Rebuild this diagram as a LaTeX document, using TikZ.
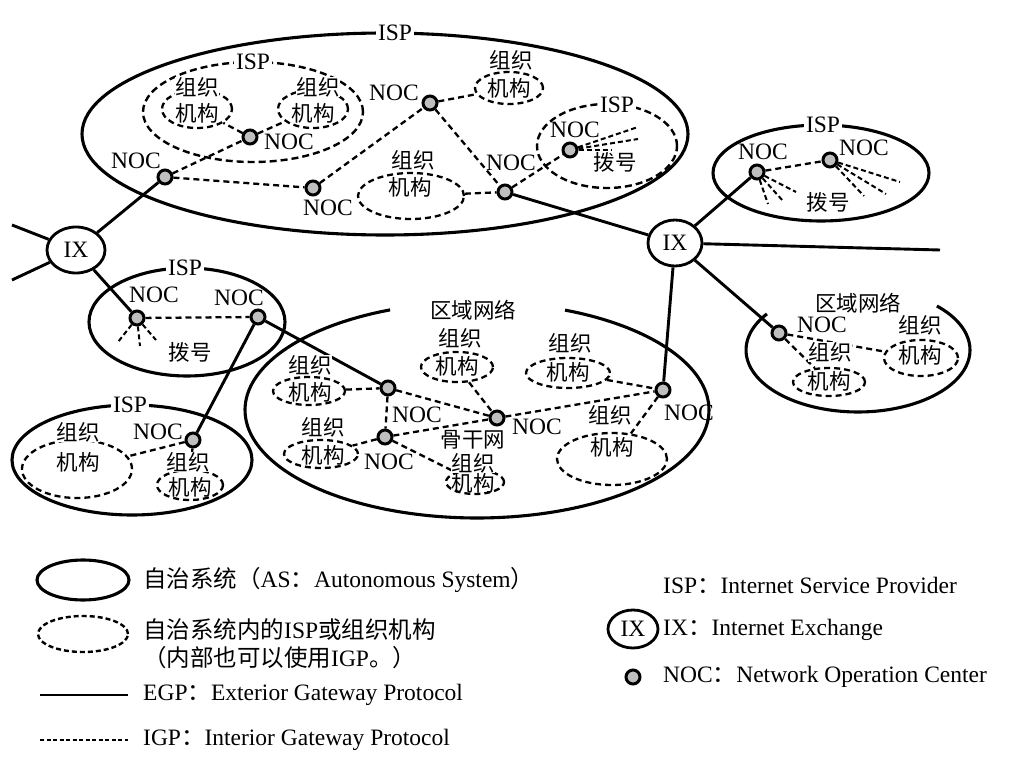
\documentclass[tikz,border=0pt]{standalone}
\usepackage{fontspec}
\setmainfont{Liberation Serif}
\newfontfamily\cjk{Noto Sans CJK SC}
\usetikzlibrary{shapes.geometric}
\newcommand\zh[1]{{\cjk #1}}
\newcommand\bigfs{\fontsize{23.5}{27}\selectfont}
\newcommand\zhfs{\fontsize{21.5}{24}\selectfont\cjk}
\tikzset{
  as/.style={draw, ellipse, line width=3.1pt, inner sep=0pt},
  ispd/.style={draw, ellipse, line width=2.4pt, dash pattern=on 7pt off 4pt, inner sep=0pt},
  org/.style={draw, ellipse, line width=2.3pt, dash pattern=on 6pt off 4pt, inner sep=0pt},
  egp/.style={line width=2.9pt},
  igp/.style={line width=2.3pt, dash pattern=on 6pt off 4pt},
  dial/.style={line width=2pt, dash pattern=on 5pt off 3pt},
  noc/.style={circle, draw, line width=3pt, fill=gray!50, minimum size=14pt, inner sep=0pt},
  ix/.style={ellipse, draw, line width=2.8pt, fill=white, minimum width=54pt, minimum height=46pt, inner sep=0pt},
  lab/.style={inner sep=1pt},
  islab/.style={inner sep=2pt, fill=white},
  zlab/.style={inner sep=0.5pt, font=\zhfs, fill=white},
  zt/.style={inner sep=0.5pt, font=\zhfs},
  leg/.style={anchor=west, inner sep=0pt},
}
\begin{document}
\begin{tikzpicture}[x=1pt,y=-1pt, font=\bigfs]
\useasboundingbox (0,0) rectangle (1018,762);

% ---------- autonomous systems ----------
\node[as, minimum width=606pt, minimum height=202pt] (as1) at (385,134) {};
\node[as, minimum width=216pt, minimum height=96pt] (as2) at (821,173) {};
\node[as, minimum width=196pt, minimum height=108pt] (as3) at (187,322) {};
\node[as, minimum width=240pt, minimum height=110pt] (as4) at (132,460) {};
\draw[line width=3.1pt] plot[domain=-67.7:248, samples=90, smooth] ({477+232*cos(\x)},{410+108*sin(\x)});
\draw[line width=3.1pt] plot[domain=-45.2:215.6, samples=70, smooth] ({858+112*cos(\x)},{350+62*sin(\x)});

% ---------- inner ISPs / organisations ----------
\node[ispd, minimum width=220pt, minimum height=100pt] (isp1) at (253,112) {};
\node[ispd, minimum width=140pt, minimum height=84pt] (isp2) at (607,146) {};
\node[org, minimum width=70pt, minimum height=38pt] (oa) at (197,109) {};
\node[org, minimum width=70pt, minimum height=38pt] (ob) at (313,109) {};
\node[org, minimum width=68pt, minimum height=32pt] (oc) at (509,88) {};
\node[org, minimum width=106pt, minimum height=46pt] (od) at (411,196) {};
\node[org, minimum width=110pt, minimum height=58pt] (oe) at (77,469) {};
\node[org, minimum width=66pt, minimum height=30pt] (of) at (190,485) {};
\node[org, minimum width=58pt, minimum height=24pt] (og) at (475,482) {};
\node[org, minimum width=72pt, minimum height=30pt] (oh) at (457,367) {};
\node[org, minimum width=84pt, minimum height=30pt] (oi) at (568,373) {};
\node[org, minimum width=110pt, minimum height=52pt] (oj) at (612,459) {};
\node[org, minimum width=72pt, minimum height=28pt] (ok) at (309,391) {};
\node[org, minimum width=74pt, minimum height=28pt] (ol) at (321,454) {};
\node[org, minimum width=72pt, minimum height=28pt] (om) at (829,382) {};
\node[org, minimum width=74pt, minimum height=36pt] (on) at (921,358) {};

% ---------- NOCs and IXs ----------
\node[noc] (n1) at (250,137) {};
\node[noc] (n2) at (165,177) {};
\node[noc] (n3) at (313,188) {};
\node[noc] (n4) at (430,103) {};
\node[noc] (n5) at (505,192) {};
\node[noc] (n6) at (570,150) {};
\node[noc] (n7) at (757,172) {};
\node[noc] (n8) at (830,160) {};
\node[noc] (n9) at (137,318) {};
\node[noc] (n10) at (258,317) {};
\node[noc] (n11) at (193,440) {};
\node[noc] (nA) at (388,388) {};
\node[noc] (nB) at (385,437) {};
\node[noc] (nC) at (497,418) {};
\node[noc] (nD) at (663,390) {};
\node[noc] (nE) at (779,333) {};
\node[ix, minimum width=58pt] (ix1) at (76,250) {IX};
\node[ix] (ix2) at (675,243) {IX};

% ---------- EGP links ----------
\coordinate (e1) at (12,225);
\coordinate (e2) at (12,280);
\coordinate (e3) at (940,250);
\draw[egp] (e1) -- (ix1);
\draw[egp] (e2) -- (ix1);
\draw[egp] (ix1) -- (n2);
\draw[egp] (ix1) -- (n9);
\draw[egp] (n10) -- (n11);
\draw[egp] (n10) -- (nA);
\draw[egp] (n5) -- (ix2);
\draw[egp] (ix2) -- (n7);
\draw[egp] (ix2) -- (e3);
\draw[egp] (ix2) -- (nD);
\draw[egp] (ix2) -- (nE);

% ---------- IGP links ----------
\draw[igp] (n2) -- (n1);
\draw[igp] (n2) -- (n3);
\draw[igp] (n3) -- (n4);
\draw[igp] (n4) -- (n5);
\draw[igp] (n4) -- (oc);
\draw[igp] (n5) -- (n6);
\draw[igp] (od) -- (n5);
\draw[igp] (n1) -- (oa);
\draw[igp] (n1) -- (ob);
\draw[igp] (n7) -- (n8);
\draw[igp] (n9) -- (n10);
\draw[igp] (n11) -- (oe);
\draw[igp] (n11) -- (of);
\draw[igp] (ok) -- (nA);
\draw[igp] (nA) -- (nB);
\draw[igp] (nA) -- (nC);
\draw[igp] (nB) -- (nC);
\draw[igp] (nB) -- (ol);
\draw[igp] (nB) -- (og);
\draw[igp] (oh) -- (nC);
\draw[igp] (nC) -- (nD);
\draw[igp] (oi) -- (nD);
\draw[igp] (nD) -- (oj);
\draw[igp] (nE) -- (on);
\draw[igp] (nE) -- (om);

% ---------- dial-up ----------
\coordinate (d61) at (638,127); \coordinate (d62) at (638,139); \coordinate (d63) at (612,150);
\draw[dial] (n6) -- (d61); \draw[dial] (n6) -- (d62); \draw[dial] (n6) -- (d63);
\coordinate (d91) at (118,342); \coordinate (d92) at (140,346); \coordinate (d93) at (156,340);
\draw[dial] (n9) -- (d91); \draw[dial] (n9) -- (d92); \draw[dial] (n9) -- (d93);
\coordinate (d71) at (768,204); \coordinate (d72) at (783,201); \coordinate (d73) at (796,192);
\draw[dial] (n7) -- (d71); \draw[dial] (n7) -- (d72); \draw[dial] (n7) -- (d73);
\coordinate (d81) at (900,182); \coordinate (d82) at (886,194); \coordinate (d83) at (864,196);
\draw[dial] (n8) -- (d81); \draw[dial] (n8) -- (d82); \draw[dial] (n8) -- (d83);

% ---------- labels ----------
\node[islab] (as1l) at (395,33) {ISP};
\node[islab] (as2l) at (823,125) {ISP};
\node[islab] (as3l) at (185,268) {ISP};
\node[islab] (as4l) at (130,405) {ISP};
\node[islab] (isp1l) at (253,62) {ISP};
\node[islab] (isp2l) at (617,105) {ISP};
\node[zt] (r1l) at (473,310) {区域网络};
\node[zt] (r2l) at (858,303) {区域网络};

\node[lab] (n1l) at (289,142) {NOC};
\node[lab] (n2l) at (136,161) {NOC};
\node[lab] (n3l) at (328,208) {NOC};
\node[lab] (n4l) at (394,93) {NOC};
\node[lab] (n5l) at (511,163) {NOC};
\node[lab] (n6l) at (575,130) {NOC};
\node[lab] (n7l) at (763,152) {NOC};
\node[lab] (n8l) at (864,148) {NOC};
\node[lab] (n9l) at (154,295) {NOC};
\node[lab] (n10l) at (239,298) {NOC};
\node[lab] (n11l) at (158,432) {NOC};
\node[lab] (nAl) at (417,415) {NOC};
\node[lab] (nBl) at (389,462) {NOC};
\node[lab] (nCl) at (537,427) {NOC};
\node[lab] (nDl) at (689,413) {NOC};
\node[lab] (nEl) at (822,325) {NOC};

\node[zt] (dl6) at (615,162) {拨号};
\node[zt] (dl7) at (828,202) {拨号};
\node[zt] (dl9) at (190,352) {拨号};
\node[zt] (bb) at (473,440) {骨干网};

\node[zlab] (oa1) at (197,87) {组织};   \node[zt] (oa2) at (197,113) {机构};
\node[zlab] (ob1) at (318,87) {组织};   \node[zt] (ob2) at (313,113) {机构};
\node[zlab] (oc1) at (511,60) {组织};   \node[zt] (oc2) at (509,88) {机构};
\node[zlab] (od1) at (413,160) {组织};  \node[zt] (od2) at (410,187) {机构};
\node[zlab] (oe1) at (78,432) {组织};   \node[zt] (oe2) at (78,462) {机构};
\node[zlab] (of1) at (188,462) {组织};  \node[zt] (of2) at (190,487) {机构};
\node[zlab] (og1) at (473,463) {组织};  \node[zt] (og2) at (473,483) {机构};
\node[zlab] (oh1) at (460,338) {组织};  \node[zt] (oh2) at (457,366) {机构};
\node[zlab] (oi1) at (570,343) {组织};  \node[zt] (oi2) at (568,372) {机构};
\node[zlab] (oj1) at (610,415) {组织};  \node[zt] (oj2) at (612,447) {机构};
\node[zlab] (ok1) at (310,365) {组织};  \node[zt] (ok2) at (310,392) {机构};
\node[zlab] (ol1) at (323,427) {组织};  \node[zt] (ol2) at (323,455) {机构};
\node[zlab] (om1) at (830,352) {组织};  \node[zt] (om2) at (829,381) {机构};
\node[zlab] (on1) at (920,325) {组织};  \node[zt] (on2) at (920,355) {机构};

% ---------- legend ----------
\node[as, minimum width=92pt, minimum height=40pt] (lgas) at (83,580) {};
\node[leg] (lgast) at (143,580) {\zh{自治系统（}AS\zh{：}Autonomous System\zh{）}};
\node[ispd, minimum width=90pt, minimum height=36pt, dash pattern=on 5pt off 3pt] (lgisp) at (83,634) {};
\node[leg] (lgispt1) at (143,630) {\zh{自治系统内的}ISP\zh{或组织机构}};
\node[leg] (lgispt2) at (143,658) {\zh{（内部也可以使用}IGP\zh{。）}};
\coordinate (lge1) at (40,695); \coordinate (lge2) at (128,695);
\draw[egp] (lge1) -- (lge2);
\node[leg] (lgegpt) at (143,695) {EGP\zh{：}Exterior Gateway Protocol};
\coordinate (lgi1) at (40,740); \coordinate (lgi2) at (128,740);
\draw[igp, dash pattern=on 4pt off 2.5pt] (lgi1) -- (lgi2);
\node[leg] (lgigpt) at (143,740) {IGP\zh{：}Interior Gateway Protocol};
\node[leg] (lgispt) at (663,585) {ISP\zh{：}Internet Service Provider};
\node[ix, minimum width=50pt, minimum height=38pt] (lgix) at (633,629) {IX};
\node[leg] (lgixt) at (663,630) {IX\zh{：}Internet Exchange};
\node[noc] (lgnoc) at (633,677) {};
\node[leg] (lgnoct) at (663,677) {NOC\zh{：}Network Operation Center};
\end{tikzpicture}
\end{document}
